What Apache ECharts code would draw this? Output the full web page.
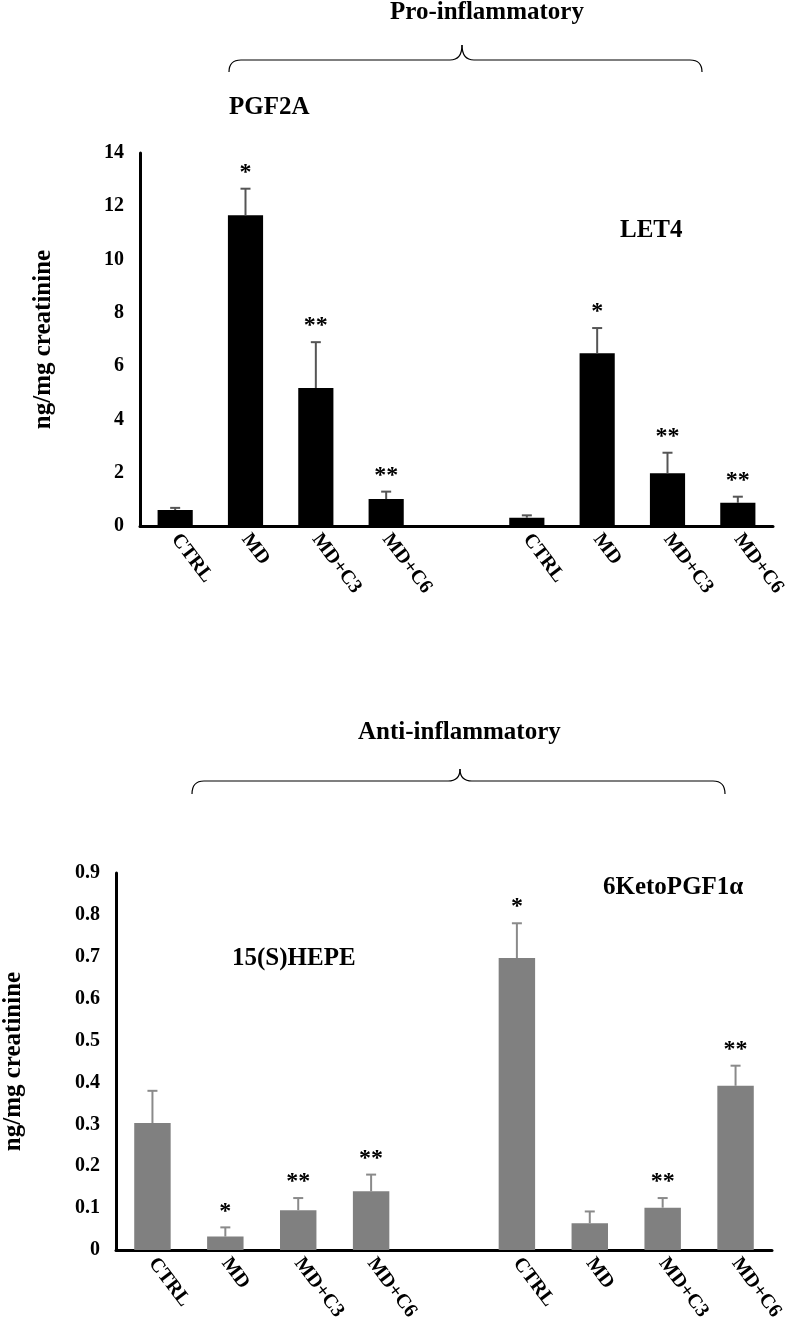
<!DOCTYPE html>
<html>
<head>
<meta charset="utf-8">
<script src="https://cdn.jsdelivr.net/npm/echarts@6/dist/echarts.min.js"></script>
<style>
  html, body { margin: 0; padding: 0; background: #fff; }
  #chart { width: 788px; height: 1330px; }
</style>
</head>
<body>
<div id="chart"></div>
<script>
// categories (an empty slot separates the two groups)
var catLabels = ['CTRL', 'MD', 'MD+C3', 'MD+C6', '', 'CTRL', 'MD', 'MD+C3', 'MD+C6']

// pro-inflammatory (ng/mg creatinine)
var pgf2a = [0.6, 11.66, 5.18, 1.01]
var pgf2aErr = [0.08, 1.0, 1.72, 0.28]
var pgf2aStars = ['', '*', '**', '**']
var let4 = [0.31, 6.48, 1.98, 0.87]
var let4Err = [0.09, 0.95, 0.77, 0.23]
var let4Stars = ['', '*', '**', '**']

// anti-inflammatory
var hepe = [0.303, 0.032, 0.095, 0.14]
var hepeErr = [0.077, 0.022, 0.029, 0.04]
var hepeStars = ['', '*', '**', '**']
var keto = [0.697, 0.064, 0.101, 0.392]
var ketoErr = [0.083, 0.028, 0.023, 0.048]
var ketoStars = ['*', '', '**', '**']

var SERIF = '"Liberation Serif", "Times New Roman", serif'

function barData(a, b) {
  return a.concat(['-'], b)
}
function errData(a, ae, b, be) {
  var out = []
  a.forEach(function (v, i) { out.push([i, v, ae[i]]) })
  b.forEach(function (v, i) { out.push([i + 5, v, be[i]]) })
  return out
}

function errRender(stars, color) {
  return function (params, api) {
    var x = api.value(0), v = api.value(1), e = api.value(2)
    var base = api.coord([x, v])
    var top = api.coord([x, v + e])
    var children = [
      { type: 'line', shape: { x1: base[0], y1: base[1], x2: top[0], y2: top[1] },
        style: { stroke: color, lineWidth: 2 } },
      { type: 'line', shape: { x1: top[0] - 5, y1: top[1], x2: top[0] + 5, y2: top[1] },
        style: { stroke: color, lineWidth: 2 } }
    ]
    var s = stars[params.dataIndex]
    if (s) {
      children.push({
        type: 'text',
        style: { text: s, x: top[0], y: top[1] - 4, align: 'center', verticalAlign: 'bottom',
          font: 'bold 24px ' + SERIF, fill: '#000' }
      })
    }
    return { type: 'group', children: children }
  }
}

// horizontal curly brace, opening downward
function brace(x1, x2, tip, y, drop, rise) {
  var st = { fill: 'none', stroke: '#000', lineWidth: 1.2 }
  var r = 12
  return {
    type: 'group',
    children: [
      { type: 'bezierCurve', shape: { x1: x1, y1: y + drop, cpx1: x1, cpy1: y, x2: x1 + r, y2: y }, style: st },
      { type: 'line', shape: { x1: x1 + r, y1: y, x2: tip - r, y2: y }, style: st },
      { type: 'bezierCurve', shape: { x1: tip - r, y1: y, cpx1: tip, cpy1: y, x2: tip, y2: y - rise }, style: st },
      { type: 'bezierCurve', shape: { x1: tip, y1: y - rise, cpx1: tip, cpy1: y, x2: tip + r, y2: y }, style: st },
      { type: 'line', shape: { x1: tip + r, y1: y, x2: x2 - r, y2: y }, style: st },
      { type: 'bezierCurve', shape: { x1: x2 - r, y1: y, cpx1: x2, cpy1: y, x2: x2, y2: y + drop }, style: st }
    ]
  }
}

var myChart = echarts.init(document.getElementById('chart'))

var xAxisCommon = {
  type: 'category',
  data: catLabels,
  axisTick: { show: false },
  axisLine: { lineStyle: { color: '#000', width: 3 } },
  axisLabel: { interval: 0, rotate: -53, margin: 10, color: '#000',
    fontFamily: SERIF, fontWeight: 'bold', fontSize: 20 }
}
var yAxisCommon = {
  type: 'value',
  nameLocation: 'middle',
  splitLine: { show: false },
  axisTick: { show: false },
  axisLine: { show: true, lineStyle: { color: '#000', width: 3 } },
  axisLabel: { color: '#000', fontFamily: SERIF, fontWeight: 'bold', fontSize: 20, margin: 16 }
}

var option = {
  backgroundColor: '#fff',
  animation: false,
  title: [
    { text: 'Pro-inflammatory', left: 390, top: 0 },
    { text: 'PGF2A', left: 229, top: 95 },
    { text: 'LET4', left: 620, top: 218 },
    { text: 'Anti-inflammatory', left: 358, top: 720 },
    { text: '15(S)HEPE', left: 232, top: 946 },
    { text: '6KetoPGF1\u03b1', left: 603, top: 875 }
  ].map(function (t) {
    t.padding = 0
    t.textStyle = { fontFamily: SERIF, fontWeight: 'bold', fontSize: 25, color: '#000' }
    return t
  }),
  grid: [
    { left: 140, right: 15, top: 153, bottom: 804, outerBoundsMode: 'none' },
    { left: 116, right: 16, top: 873, bottom: 80, outerBoundsMode: 'none' }
  ],
  xAxis: [
    Object.assign({ gridIndex: 0 }, xAxisCommon),
    Object.assign({ gridIndex: 1 }, xAxisCommon)
  ],
  yAxis: [
    Object.assign({}, yAxisCommon, {
      gridIndex: 0, min: 0, max: 14, interval: 2,
      name: 'ng/mg creatinine', nameGap: 84,
      nameTextStyle: { fontFamily: SERIF, fontWeight: 'bold', fontSize: 25, color: '#000' }
    }),
    Object.assign({}, yAxisCommon, {
      gridIndex: 1, min: 0, max: 0.9, interval: 0.1,
      name: 'ng/mg creatinine', nameGap: 90,
      nameTextStyle: { fontFamily: SERIF, fontWeight: 'bold', fontSize: 25, color: '#000' }
    })
  ],
  graphic: [
    brace(229, 702, 462, 60, 12, 15),
    brace(192, 725, 460, 781, 13, 12)
  ],
  series: [
    { type: 'bar', xAxisIndex: 0, yAxisIndex: 0, barWidth: '50%',
      data: barData(pgf2a, let4), itemStyle: { color: '#000' } },
    { type: 'custom', xAxisIndex: 0, yAxisIndex: 0, z: 3,
      data: errData(pgf2a, pgf2aErr, let4, let4Err),
      renderItem: errRender(pgf2aStars.concat(let4Stars), '#555') },
    { type: 'bar', xAxisIndex: 1, yAxisIndex: 1, barWidth: '50%',
      data: barData(hepe, keto), itemStyle: { color: '#808080' } },
    { type: 'custom', xAxisIndex: 1, yAxisIndex: 1, z: 3,
      data: errData(hepe, hepeErr, keto, ketoErr),
      renderItem: errRender(hepeStars.concat(ketoStars), '#8a8a8a') }
  ]
}
myChart.setOption(option)
</script>
</body>
</html>
